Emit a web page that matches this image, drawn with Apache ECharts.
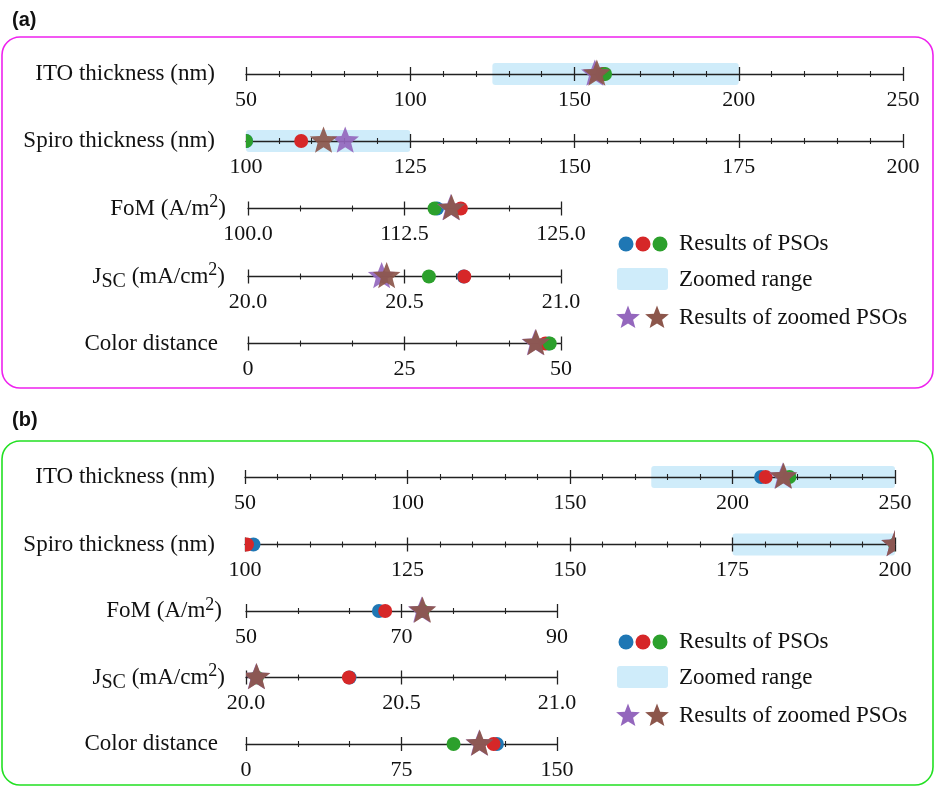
<!DOCTYPE html>
<html>
<head>
<meta charset="utf-8">
<script src="https://cdn.jsdelivr.net/npm/echarts@6/dist/echarts.min.js"></script>
<style>
  html, body { margin: 0; padding: 0; background: #fff; }
  #chart { width: 936px; height: 787px; }
</style>
</head>
<body>
<div id="chart"></div>
<script>
// ---- Axis titles (rich text for sub/superscripts) ----
const axisTitles = [
  '{n|ITO thickness (nm)}',
  '{n|Spiro thickness (nm)}',
  '{n|FoM (A/m}{sup|2}{n|)}',
  '{n|J}{sub|SC}{n| (mA/cm}{sup|2}{n|)}',
  '{n|Color distance}'
];
const minorSplits = [5, 5, 3, 3, 3];

// ---- Panel (a) ----
const rangesA = [[50, 250], [100, 200], [100, 125], [20, 21], [0, 50]];
const stepsA = [50, 25, 12.5, 0.5, 25];
const decimalsA = [0, 0, 1, 1, 0];
const zoomedRangeA = [[125, 200], [100, 125], null, null, null];
const psoBlueA = [158.5, 100.0, 115.1, 20.689, 48.0];
const psoRedA = [158.8, 108.4, 117.0, 20.691, 47.5];
const psoGreenA = [159.3, 100.0, 114.9, 20.578, 48.2];
const zoomedPurpleA = [156.2, 115.1, 116.2, 20.427, 45.9];
const zoomedBrownA = [156.8, 111.8, 116.25, 20.443, 46.0];

// ---- Panel (b) ----
const rangesB = [[50, 250], [100, 200], [50, 90], [20, 21], [0, 150]];
const stepsB = [50, 25, 20, 0.5, 75];
const decimalsB = [0, 0, 0, 1, 0];
const zoomedRangeB = [[175, 250], [175, 200], null, null, null];
const psoBlueB = [208.8, 101.3, 67.1, 20.333, 121.0];
const psoRedB = [210.2, 100.3, 67.9, 20.331, 119.4];
const psoGreenB = [217.5, 200.0, 72.7, 20.035, 100.1];
const zoomedPurpleB = [215.5, 200.0, 72.6, 20.033, 112.5];
const zoomedBrownB = [215.7, 200.0, 72.7, 20.034, 112.7];

const legendLabels = ['Results of PSOs', 'Zoomed range', 'Results of zoomed PSOs'];

// ---- Styling / layout ----
const FONT = 'Liberation Serif';
const INK = '#111';
const AXIS = '#222';
const COLORS = { blue: '#1f77b4', red: '#d62728', green: '#2ca02c', purple: '#9467bd', brown: '#8c564b' };
const ZOOM_FILL = '#cfecfa';

const layoutA = {
  y: [74, 141, 208.5, 276.5, 343.5],
  x0: [246, 246, 248, 248, 248],
  x1: [903, 903, 561, 561, 561],
  nameGap: [31, 31, 22, 23, 30],
  legendDy: 0
};
const layoutB = {
  y: [477, 544.5, 611, 677.5, 744],
  x0: [245, 245, 246, 246, 246],
  x1: [895, 895, 557, 557, 557],
  nameGap: [30, 30, 24, 21, 28],
  legendDy: 398
};

const panels = [
  { ranges: rangesA, steps: stepsA, decimals: decimalsA, zoomed: zoomedRangeA,
    blue: psoBlueA, red: psoRedA, green: psoGreenA, purple: zoomedPurpleA, brown: zoomedBrownA, layout: layoutA },
  { ranges: rangesB, steps: stepsB, decimals: decimalsB, zoomed: zoomedRangeB,
    blue: psoBlueB, red: psoRedB, green: psoGreenB, purple: zoomedPurpleB, brown: zoomedBrownB, layout: layoutB }
];

const nameRich = {
  n: { fontFamily: FONT, fontSize: 23, color: INK, lineHeight: 30, verticalAlign: 'middle' },
  sup: { fontFamily: FONT, fontSize: 18, color: INK, lineHeight: 18, verticalAlign: 'top' },
  sub: { fontFamily: FONT, fontSize: 20, color: INK, lineHeight: 27, verticalAlign: 'bottom' }
};

function starPoints(cx, cy, R, ratio) {
  const pts = [];
  for (let i = 0; i < 10; i++) {
    const r = i % 2 ? R * ratio : R;
    const a = -Math.PI / 2 + i * Math.PI / 5;
    pts.push([cx + r * Math.cos(a), cy + r * Math.sin(a)]);
  }
  return pts;
}

const ROW_H = 44;
const grids = [], xAxes = [], yAxes = [], series = [];

function circleRenderer(color) {
  return function (params, api) {
    const p = api.coord([api.value(0), 0]);
    return { type: 'circle', shape: { cx: p[0], cy: p[1], r: 7 }, style: { fill: color } };
  };
}
function starRenderer(color) {
  return function (params, api) {
    const p = api.coord([api.value(0), 0]);
    return { type: 'polygon', shape: { points: starPoints(p[0], p[1], 14.5, 0.43) },
             style: { fill: color, opacity: 0.92 } };
  };
}
function rangeRenderer(params, api) {
  const a = api.coord([api.value(0), 0]);
  const b = api.coord([api.value(1), 0]);
  return { type: 'rect', shape: { x: a[0], y: a[1] - 11, width: b[0] - a[0], height: 22, r: 3 },
           style: { fill: ZOOM_FILL } };
}

let row = 0;
panels.forEach(function (pn) {
  const L = pn.layout;
  for (let i = 0; i < 5; i++) {
    const k = row;
    grids.push({ left: L.x0[i], width: L.x1[i] - L.x0[i], top: L.y[i] - ROW_H / 2, height: ROW_H,
                 containLabel: false, outerBoundsMode: 'none' });
    yAxes.push({ gridIndex: k, type: 'value', min: -1, max: 1, show: false });
    const dec = pn.decimals[i];
    const common = {
      gridIndex: k, type: 'value', position: 'bottom',
      min: pn.ranges[i][0], max: pn.ranges[i][1], interval: pn.steps[i],
      splitLine: { show: false }, minorSplitLine: { show: false }
    };
    // main axis: line, downward ticks, labels, title
    xAxes.push(Object.assign({}, common, {
      axisLine: { show: true, onZero: true, onZeroAxisIndex: k, lineStyle: { color: AXIS, width: 1.3 } },
      axisTick: { show: true, inside: false, length: 7, lineStyle: { color: AXIS, width: 1.3 } },
      minorTick: { show: true, splitNumber: minorSplits[i], length: 3, lineStyle: { color: AXIS, width: 1.1 } },
      axisLabel: { show: true, margin: -7, fontFamily: FONT, fontSize: 22, color: INK,
                   showMinLabel: true, showMaxLabel: true,
                   formatter: function (v) { return Number(v).toFixed(dec); } },
      name: axisTitles[i], nameLocation: 'start', nameGap: L.nameGap[i],
      nameTextStyle: { fontFamily: FONT, fontSize: 23, color: INK, rich: nameRich }
    }));
    const mainIdx = xAxes.length - 1;
    // mirror axis: upward ticks so ticks cross the line
    xAxes.push(Object.assign({}, common, {
      axisLine: { show: false, onZero: true, onZeroAxisIndex: k },
      axisTick: { show: true, inside: true, length: 7, lineStyle: { color: AXIS, width: 1.3 } },
      minorTick: { show: true, splitNumber: minorSplits[i], length: 3, lineStyle: { color: AXIS, width: 1.1 } },
      axisLabel: { show: false }
    }));

    const base = { type: 'custom', xAxisIndex: mainIdx, yAxisIndex: k, clip: true, silent: true, animation: false };
    if (pn.zoomed[i]) {
      series.push(Object.assign({}, base, { z: -1, encode: { x: [0, 1] }, renderItem: rangeRenderer,
                                            data: [[pn.zoomed[i][0], pn.zoomed[i][1]]] }));
    }
    ['blue', 'red', 'green'].forEach(function (c) {
      series.push(Object.assign({}, base, { z: 3, renderItem: circleRenderer(COLORS[c]), data: [[pn[c][i], 0]] }));
    });
    ['purple', 'brown'].forEach(function (c) {
      series.push(Object.assign({}, base, { z: 4, renderItem: starRenderer(COLORS[c]), data: [[pn[c][i], 0]] }));
    });
    row++;
  }
});

// ---- Frames, panel tags and legends ----
const graphics = [
  { type: 'rect', shape: { x: 2, y: 37, width: 931, height: 351, r: 18 },
    style: { fill: 'none', stroke: '#ee22ee', lineWidth: 1.6 } },
  { type: 'rect', shape: { x: 2, y: 441, width: 931, height: 344, r: 18 },
    style: { fill: 'none', stroke: '#22e022', lineWidth: 1.6 } },
  { type: 'text', style: { text: '(a)', x: 12, y: 20, font: 'bold 20px "Liberation Sans"', fill: '#111',
      textAlign: 'left', textVerticalAlign: 'middle', align: 'left', verticalAlign: 'middle' } },
  { type: 'text', style: { text: '(b)', x: 12, y: 420, font: 'bold 20px "Liberation Sans"', fill: '#111',
      textAlign: 'left', textVerticalAlign: 'middle', align: 'left', verticalAlign: 'middle' } }
];
panels.forEach(function (pn) {
  const dy = pn.layout.legendDy;
  [['blue', 626], ['red', 643], ['green', 660]].forEach(function (d) {
    graphics.push({ type: 'circle', shape: { cx: d[1], cy: 244 + dy, r: 7.5 }, style: { fill: COLORS[d[0]] } });
  });
  graphics.push({ type: 'rect', shape: { x: 617, y: 268 + dy, width: 51, height: 22, r: 3 }, style: { fill: ZOOM_FILL } });
  [['purple', 628], ['brown', 657]].forEach(function (d) {
    graphics.push({ type: 'polygon', shape: { points: starPoints(d[1], 318 + dy, 12.5, 0.43) }, style: { fill: COLORS[d[0]] } });
  });
  [244, 280, 318].forEach(function (y, j) {
    graphics.push({ type: 'text', style: { text: legendLabels[j], x: 679, y: y + dy,
      font: '23px "' + FONT + '"', fill: INK,
      textAlign: 'left', textVerticalAlign: 'middle', align: 'left', verticalAlign: 'middle' } });
  });
});

const chart = echarts.init(document.getElementById('chart'), null, { renderer: 'canvas' });
chart.setOption({
  backgroundColor: '#fff',
  animation: false,
  grid: grids,
  xAxis: xAxes,
  yAxis: yAxes,
  series: series,
  graphic: { elements: graphics }
});
</script>
</body>
</html>
